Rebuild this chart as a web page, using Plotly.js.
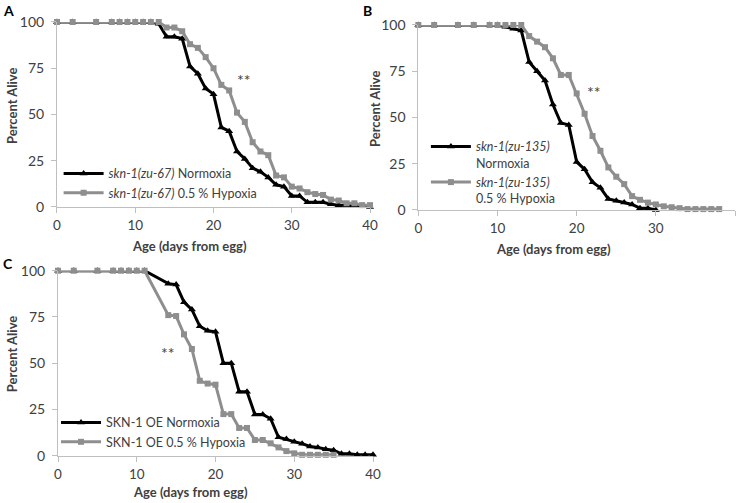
<!DOCTYPE html>
<html><head><meta charset="utf-8">
<script src="https://cdn.plot.ly/plotly-3.0.1.min.js"></script>
<style>html,body{margin:0;padding:0;background:#fff}#chart{width:742px;height:503px}</style>
</head><body><div id="chart"></div>
<script>
// Panel A: skn-1(zu-67)
const aNormDays = [0,2,5,7,8,9,10,11,12,13,14,15,16,17,18,19,20,21,22,23,24,25,26,27,28,29,30,31,32,33,34,35,36,37,38,39,40];
const aNormVals = [100,100,100,100,100,100,100,100,100,99,92,92,91,76,72,64,61,43,41,30,26,21,19,16,12,11,6,6,2.5,2.5,2.5,1.5,1,1,0.5,0.5,0];
const aHypDays = [0,2,5,7,8,9,10,11,12,13,14,15,16,17,18,19,20,21,22,23,24,25,26,27,28,29,30,31,32,33,34,35,36,37,38,39,40];
const aHypVals = [100,100,100,100,100,100,100,100,100,100,97,97,95,88,86,81,75,66,63,51,46,35,30,28,17,16,11,10,8,7,6.5,4,3.5,2,2,1,1];
// Panel B: skn-1(zu-135)
const bNormDays = [0,2,5,7,9,10,11,12,13,14,15,16,17,18,19,20,21,22,23,24,25,26,27,28,29,30];
const bNormVals = [100,100,100,100,100,100,99,98,97,80,75,70,57,47,46,26,22,15,12,6,5,4,3,1,1,0];
const bHypDays = [0,2,5,7,9,10,11,12,13,14,15,16,17,18,19,20,21,22,23,24,25,26,27,28,29,30,31,32,33,34,35,36,37,38];
const bHypVals = [100,100,100,100,100,100,100,100,100,94,91,88,82,73,73,63,52,40,32,23,18,14,7.5,5.5,4,3,2,1.5,1,0.5,0.5,0.5,0.5,0.5];
// Panel C: SKN-1 OE
const cNormDays = [0,2,5,7,8,9,10,11,14,15,16,17,18,19,20,21,22,23,24,25,26,27,28,29,30,31,32,33,34,35,36,37,38,39,40];
const cNormVals = [100,100,100,100,100,100,100,100,93,92.5,83,79,70,67.5,67,50,50,34.6,34.6,22.3,22.3,20,10,9,7.6,6.5,5,4.5,3.5,3,1,1,0.5,0.5,0.5];
const cHypDays = [0,2,5,7,8,9,10,11,14,15,16,17,18,19,20,21,22,23,24,25,26,27,28,29,30,31,32,33,34,35];
const cHypVals = [100,100,100,100,100,100,100,100,76,75.5,65.6,57.7,40.5,39,38.4,22.5,22.5,15,15,8.5,8.5,6.7,4.5,2.5,1.3,0.5,0.5,0.5,0.5,0.5];

const xTicks = [0,10,20,30,40];
const yTicks = [0,25,50,75,100];

const BLACK = '#000000', GRAY = '#8e8e8e';
const FONT = 'Lato, "Open Sans", sans-serif';
const TXT = '#404040';

function tr(x, y, name, color, sym, xa, ya, leg) {
  return {x:x, y:y, name:name, type:'scatter', mode:'lines+markers',
    xaxis:xa, yaxis:ya, legend:leg, cliponaxis:false,
    line:{color:color, width:3},
    marker:{color:color, symbol:sym, size: sym==='square'?6:7}};
}
const data = [
  tr(aNormDays, aNormVals, '<i>skn-1(zu-67)</i> Normoxia', BLACK, 'triangle-up', 'x', 'y', 'legend'),
  tr(aHypDays, aHypVals, '<i>skn-1(zu-67)</i> 0.5 % Hypoxia', GRAY, 'square', 'x', 'y', 'legend'),
  tr(bNormDays, bNormVals, '<i>skn-1(zu-135)</i><br>Normoxia', BLACK, 'triangle-up', 'x2', 'y2', 'legend2'),
  tr(bHypDays, bHypVals, '<i>skn-1(zu-135)</i><br>0.5 % Hypoxia', GRAY, 'square', 'x2', 'y2', 'legend2'),
  tr(cNormDays, cNormVals, 'SKN-1 OE Normoxia', BLACK, 'triangle-up', 'x3', 'y3', 'legend3'),
  tr(cHypDays, cHypVals, 'SKN-1 OE 0.5 % Hypoxia', GRAY, 'square', 'x3', 'y3', 'legend3')
];

function xax(dom, anchor) {
  return {domain:dom, anchor:anchor, range:[0,40], tickvals:xTicks, showline:true, linecolor:'#bfbfbf', linewidth:1,
    ticks:'outside', ticklen:5, tickcolor:'#bfbfbf', showgrid:false, zeroline:false, ticklabelstandoff:1,
    tickfont:{family:FONT, size:13.5, color:TXT}};
}
function yax(dom, anchor) {
  return {domain:dom, anchor:anchor, range:[0,100], tickvals:yTicks, showline:true, linecolor:'#bfbfbf', linewidth:1,
    ticks:'outside', ticklen:5, tickcolor:'#bfbfbf', showgrid:false, zeroline:false, ticklabelstandoff:4,
    tickfont:{family:FONT, size:14, color:TXT}};
}
function leg(x, y) {
  return {x:x, y:y, xanchor:'left', yanchor:'top', bgcolor:'rgba(0,0,0,0)', borderwidth:0, valign:'top',
    font:{family:FONT, size:12.5, color:TXT}, itemwidth:40, tracegroupgap:0, traceorder:'normal'};
}
function title(text, x, y, angle) {
  return {text:'<b>'+text+'</b>', xref:'paper', yref:'paper', x:x, y:y, xanchor:'center', yanchor:'middle',
    textangle:angle, showarrow:false, font:{family:FONT, size:13, color:TXT}};
}
const layout = {
  width:742, height:503, margin:{l:0,r:0,t:0,b:0}, paper_bgcolor:'#fff', plot_bgcolor:'#fff',
  showlegend:true, font:{family:FONT, color:TXT},
  xaxis: xax([0.0768, 0.4987], 'y'), yaxis: yax([0.5885, 0.9563], 'x'),
  xaxis2: xax([0.5638, 0.9906], 'y2'), yaxis2: yax([0.5825, 0.9503], 'x2'),
  xaxis3: xax([0.0782, 0.5027], 'y3'), yaxis3: yax([0.0940, 0.4618], 'x3'),
  legend: leg(0.079, 0.684),
  legend2: leg(0.574, 0.7376),
  legend3: leg(0.0755, 0.189),
  annotations: [
    {text:'<b>A</b>', xref:'paper', yref:'paper', x:0.002, y:1.0, xanchor:'left', yanchor:'top', showarrow:false, font:{family:FONT, size:14, color:'#000'}},
    {text:'<b>B</b>', xref:'paper', yref:'paper', x:0.486, y:1.0, xanchor:'left', yanchor:'top', showarrow:false, font:{family:FONT, size:14, color:'#000'}},
    {text:'<b>C</b>', xref:'paper', yref:'paper', x:0.002, y:0.497, xanchor:'left', yanchor:'top', showarrow:false, font:{family:FONT, size:14, color:'#000'}},
    title('Age (days from egg)', 0.256, 0.5109, 0),
    title('Age (days from egg)', 0.7453, 0.505, 0),
    title('Age (days from egg)', 0.2574, 0.0228, 0),
    title('Percent Alive', 0.0162, 0.7893, -90),
    title('Percent Alive', 0.5054, 0.7833, -90),
    title('Percent Alive', 0.0162, 0.296, -90),
    {text:'**', xref:'x', yref:'y', x:23.9, y:69, showarrow:false, font:{family:FONT, size:16, color:TXT}},
    {text:'**', xref:'x2', yref:'y2', x:22.2, y:64, showarrow:false, font:{family:FONT, size:16, color:TXT}},
    {text:'**', xref:'x3', yref:'y3', x:14, y:56, showarrow:false, font:{family:FONT, size:16, color:TXT}}
  ]
};
Plotly.newPlot('chart', data, layout, {displayModeBar:false, staticPlot:true});
</script></body></html>
